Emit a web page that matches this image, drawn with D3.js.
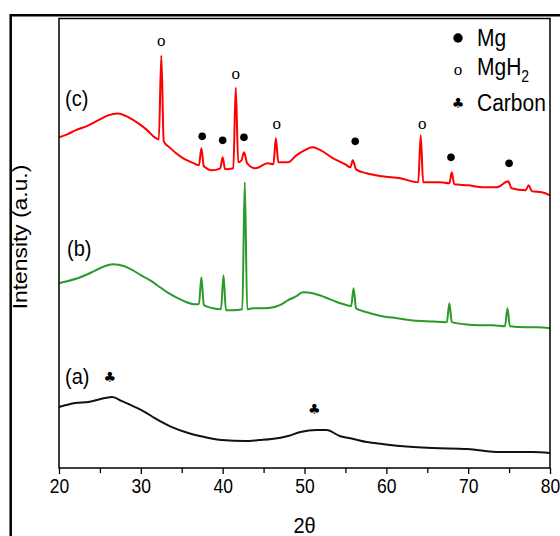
<!DOCTYPE html>
<html><head><meta charset="utf-8">
<script src="https://cdn.jsdelivr.net/npm/d3@7"></script>
<style>
html,body{margin:0;padding:0;background:#fff;}
svg{display:block;font-family:"Liberation Sans",Arial,sans-serif;}
</style></head>
<body>
<svg id="chart" width="560" height="536"></svg>
<script>
// ---- data (2θ in degrees, intensity in arbitrary units) ----
const majorTicks = [20, 30, 40, 50, 60, 70, 80];
const minorTicks = [25, 35, 45, 55, 65, 75];

const seriesA = [[20,61],[22,65],[23.6,66],[25.6,70],[26.5,71],[27.7,67],[29.3,61],[30.5,56],[31.7,50],[33.8,41],[35.8,35],[37.8,31],[39.9,28],[42.7,27],[44.5,28],[46,29],[48,32],[49.5,36],[51.5,38],[52.7,38],[54.3,32],[56,29],[57.6,26],[59.5,24],[61.7,22],[65.7,20],[69.9,19],[73.9,16],[77.9,16],[80,15]];

const seriesB = [[20,185],[21,187],[22.6,191],[24,196],[25,200],[26.6,204],[28,202],[29,198],[30,193],[31.1,188],[32,183],[33.2,176],[34.5,170],[35.6,166],[36.5,164],[37.1,164],[37.4,191],[37.7,163],[38.8,160],[39.8,159],[40.1,193],[40.4,158],[41.3,158],[42.4,159],[42.7,286],[43.0,159],[43.7,160],[45,160],[46.2,161],[47,163],[48,168],[49,172],[49.8,176],[51,175],[52.5,171],[54,166],[55.2,163],[55.7,162],[56.0,180],[56.3,160],[56.8,158],[58,155],[59.5,152],[61.3,150],[63,148],[65,147],[67.4,146],[67.7,165],[68.0,146],[69.5,144],[71.4,143],[73,143],[74.5,142],[74.8,160],[75.1,142],[77,141],[78.5,141],[80,140]];

const seriesC = [[20,331],[21,334],[22,338],[23.6,343],[25,349],[26,353],[27.2,355],[28.5,351],[29.7,345],[30.8,338],[31.7,331],[32.2,329],[32.5,413],[32.8,327],[33.5,321],[35,311],[36.5,305],[37.1,303],[37.4,320],[37.7,302],[38.7,298],[39.7,300],[40.0,311],[40.3,299],[41.3,300],[41.6,381],[41.9,306],[42.3,308],[42.6,316],[43.0,305],[44,300],[45.5,305],[46.2,304],[46.5,330],[46.8,306],[48,306],[49,313],[50,318],[51,321],[52,318],[53.5,310],[55,304],[55.6,301],[55.9,308],[56.3,299],[57.6,295],[59.5,292],[61.7,290],[63.9,286],[64.2,333],[64.5,286],[66.6,286],[67.7,285],[68.0,296],[68.3,284],[70,283],[71.8,281],[73.5,281],[74.9,287],[75.3,280],[77,278],[77.4,283],[77.8,277],[79,276],[80,273]];

const seriesNames = ["(a)", "(b)", "(c)"];
const seriesColors = ["#111111", "#2a9a2a", "#ff0000"];

// phase markers: [2θ, intensity level]
const mgMarks = [[37.5,332],[40.0,328],[42.6,331],[56.2,327],[67.9,311],[75.0,305]];
const mgh2Marks = [[32.5,427],[41.6,394],[46.6,344],[64.4,344]];
const carbonMarks = [[26.2,91],[51.2,59]];

const legendItems = ["Mg", "MgH", "Carbon"];

// ---- drawing ----
const svg = d3.select("#chart");
const L = 59, R = 550, T = 18.5, B = 468;
const x = d3.scaleLinear().domain([20, 80]).range([L, R]);
const y = d3.scaleLinear().domain([0, 450]).range([B, T]);

// outer frame (partially visible)
svg.append("path").attr("d", `M10.7,536 L10.7,15.3 L560,15.3`)
  .attr("fill", "none").attr("stroke", "#000").attr("stroke-width", 2.5);

// series lines
const line = d3.line().x(d => x(d[0])).y(d => y(d[1])).curve(d3.curveMonotoneX);
[seriesA, seriesB, seriesC].forEach((s, i) => {
  svg.append("path").datum(s).attr("d", line)
    .attr("fill", "none").attr("stroke", seriesColors[i])
    .attr("stroke-width", 2).attr("stroke-linejoin", "round");
});

// plot frame
svg.append("rect").attr("x", L).attr("y", T).attr("width", R - L).attr("height", B - T)
  .attr("fill", "none").attr("stroke", "#000").attr("stroke-width", 1.5);

// x axis
const ax = svg.append("g").attr("transform", `translate(0,${B})`)
  .call(d3.axisBottom(x).tickValues(majorTicks).tickSize(6).tickPadding(4).tickFormat(d3.format("d")));
ax.select(".domain").remove();
ax.selectAll(".tick line").attr("stroke-width", 1.3);
ax.selectAll(".tick text").attr("font-size", 17.5).attr("fill", "#000")
  .attr("transform", "scale(1,1.12)")
  .attr("font-family", "'Liberation Sans',Arial,sans-serif");
const axm = svg.append("g").attr("transform", `translate(0,${B})`)
  .call(d3.axisBottom(x).tickValues(minorTicks).tickSize(5).tickFormat(""));
axm.select(".domain").remove();
axm.selectAll(".tick line").attr("stroke-width", 1.3);

// axis titles
svg.append("g").attr("transform", `translate(${(L + R) / 2},533) scale(1,1.1)`)
  .append("text").attr("text-anchor", "middle").attr("font-size", 20).text("2θ");
svg.append("g").attr("transform", "translate(27,237) rotate(-90)")
  .append("text").attr("text-anchor", "middle").attr("font-size", 19.5)
  .attr("transform", "scale(1.17,1)").text("Intensity (a.u.)");

// series labels
const labelPos = [[65, 384], [67, 256], [65, 106]];
seriesNames.forEach((n, i) => {
  svg.append("g").attr("transform", `translate(${labelPos[i][0]},${labelPos[i][1]}) scale(1,1.08)`)
    .append("text").attr("font-size", 20).text(n);
});

// markers
svg.selectAll(".mg").data(mgMarks).join("circle")
  .attr("cx", d => x(d[0])).attr("cy", d => y(d[1])).attr("r", 3.8).attr("fill", "#000");
svg.selectAll(".mgh2").data(mgh2Marks).join("text")
  .attr("x", d => x(d[0])).attr("y", d => y(d[1]) + 4.5).attr("text-anchor", "middle")
  .attr("font-family", "'Liberation Serif','Times New Roman',serif").attr("font-size", 17).text("o");
svg.selectAll(".carbon").data(carbonMarks).join("text")
  .attr("x", d => x(d[0])).attr("y", d => y(d[1]) + 5).attr("text-anchor", "middle")
  .attr("font-family", "'DejaVu Sans',sans-serif").attr("font-size", 14).text("♣");

// legend
const lg = svg.append("g");
lg.append("circle").attr("cx", 458).attr("cy", 38).attr("r", 4.7).attr("fill", "#000");
lg.append("text").attr("x", 458).attr("y", 74.5).attr("text-anchor", "middle")
  .attr("font-family", "'Liberation Serif','Times New Roman',serif").attr("font-size", 17).text("o");
lg.append("text").attr("x", 458).attr("y", 108).attr("text-anchor", "middle")
  .attr("font-family", "'DejaVu Sans',sans-serif").attr("font-size", 14).text("♣");
const legY = [46, 75, 110.5];
legendItems.forEach((t, i) => {
  const g = lg.append("g").attr("transform", `translate(477,${legY[i]}) scale(1,1.12)`);
  const tx = g.append("text").attr("font-size", 21).text(t);
  if (i === 1) tx.append("tspan").attr("font-size", 14).attr("dy", 6).text("2");
});
</script>
</body></html>
